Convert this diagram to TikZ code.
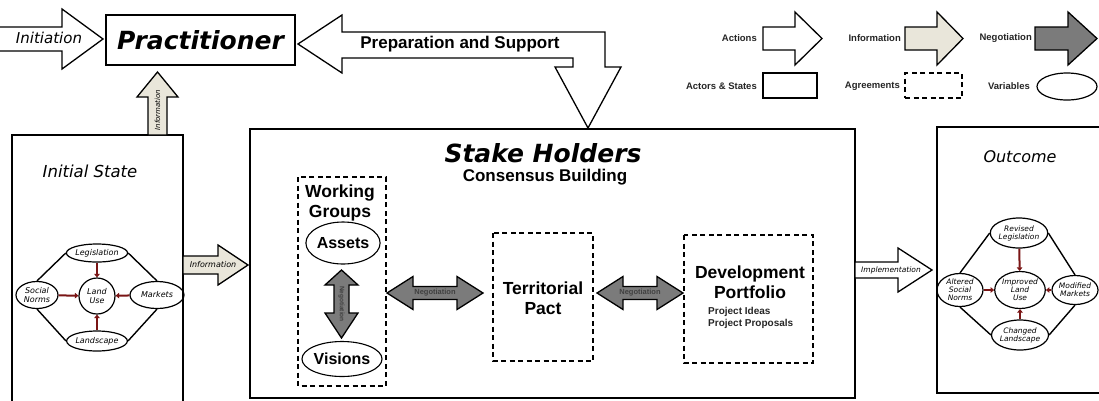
\documentclass[tikz,border=0pt]{standalone}
\usepackage{fontspec}
\newfontfamily\cs{DejaVu Sans}
\newfontfamily\ar{Liberation Sans}
\usetikzlibrary{arrows.meta,shapes.geometric}
\definecolor{infofill}{HTML}{E9E6DA}
\definecolor{negfill}{HTML}{7B7B7B}
\definecolor{relred}{HTML}{7A1515}
% single horizontal block arrow: style, x0, xbase, xtip, yc, halfshaft, halfhead
\newcommand{\harr}[7][]{\draw[blockarrow,#1] (#2,{#5-#6}) -- (#3,{#5-#6}) -- (#3,{#5-#7}) -- (#4,#5) -- (#3,{#5+#7}) -- (#3,{#5+#6}) -- (#2,{#5+#6}) -- cycle;}
% single vertical block arrow: style, y0, ybase, ytip, xc, halfshaft, halfhead
\newcommand{\varr}[7][]{\draw[blockarrow,#1] ({#5-#6},#2) -- ({#5-#6},#3) -- ({#5-#7},#3) -- (#5,#4) -- ({#5+#7},#3) -- ({#5+#6},#3) -- ({#5+#6},#2) -- cycle;}
% double horizontal: style, xlt, xlb, xrb, xrt, yc, hs, hh
\newcommand{\hdarr}[8][]{\draw[blockarrow,#1] (#2,#6) -- (#3,{#6-#8}) -- (#3,{#6-#7}) -- (#4,{#6-#7}) -- (#4,{#6-#8}) -- (#5,#6) -- (#4,{#6+#8}) -- (#4,{#6+#7}) -- (#3,{#6+#7}) -- (#3,{#6+#8}) -- cycle;}
% double vertical: style, ytt, ytb, ybb, ybt, xc, hs, hh
\newcommand{\vdarr}[8][]{\draw[blockarrow,#1] (#6,#2) -- ({#6-#8},#3) -- ({#6-#7},#3) -- ({#6-#7},#4) -- ({#6-#8},#4) -- (#6,#5) -- ({#6+#8},#4) -- ({#6+#7},#4) -- ({#6+#7},#3) -- ({#6+#8},#3) -- cycle;}
\begin{document}
\begin{tikzpicture}[x=1pt,y=-1pt,
  blockarrow/.style={draw=black,line width=1.3pt,line join=miter,fill=white},
  info/.style={fill=infofill},
  nego/.style={fill=negfill},
  box/.style={draw=black,line width=1.3pt},
  agree/.style={draw=black,line width=1.3pt,dash pattern=on 5pt off 3.5pt},
  var/.style={ellipse,draw=black,line width=1.2pt,inner sep=0pt,align=center,
    font=\cs\itshape\fontsize{8}{8.6}\selectfont},
  ovar/.style={var,font=\cs\itshape\fontsize{7.5}{8}\selectfont},
  link/.style={draw=black,line width=1.4pt},
  rel/.style={draw=relred,line width=2pt,-{Triangle[length=3.5pt,width=5.5pt]}},
  legtxt/.style={anchor=east,inner sep=0pt,font=\ar\bfseries\fontsize{9.5}{10}\selectfont,text=black!85},
  big/.style={font=\ar\bfseries\fontsize{17.5}{20.5}\selectfont,align=center,inner sep=0pt},
  comic/.style={font=\cs\itshape,inner sep=0pt},
  small/.style={inner sep=0pt,font=\cs\itshape\fontsize{7.5}{8}\selectfont}]
\useasboundingbox (0,0) rectangle (1099,400);
\fill[white] (0,0) rectangle (1099,400);

% ---------- legend ----------
\harr{763}{795}{822}{38.5}{11.5}{26.5}
\harr[info]{905}{937}{963}{38.5}{11.5}{26.5}
\harr[nego]{1035}{1068}{1097}{38.5}{11.5}{26.5}
\node[legtxt] (lgact) at (757,38) {Actions};
\node[legtxt] (lginf) at (901,38) {Information};
\node[legtxt] (lgneg) at (1032,38) {Negotiation};
\node[box,minimum width=54pt,minimum height=25pt,inner sep=0pt] (lgbox) at (790,85.5) {};
\node[agree,minimum width=57pt,minimum height=25pt,inner sep=0pt] (lgagr) at (933.5,85.5) {};
\node[ellipse,draw,line width=1.2pt,minimum width=60pt,minimum height=27pt,inner sep=0pt] (lgvar) at (1067,86.5) {};
\node[legtxt] (lgas) at (757,86) {Actors \& States};
\node[legtxt] (lgag) at (900,86) {Agreements};
\node[legtxt] (lgva) at (1030,86) {Variables};

% ---------- practitioner ----------
\node[box,minimum width=189pt,minimum height=50pt,inner sep=0pt,
  font=\cs\bfseries\itshape\fontsize{25}{28}\selectfont] (prac) at (200.5,40) {Practitioner};
\harr{-5}{62}{103}{39}{12}{30}
\node[comic,font=\cs\itshape\fontsize{15}{16}\selectfont] (init) at (49,38) {Initiation};

% preparation and support (bent arrow)
\draw[blockarrow] (298,44) -- (342,15) -- (342,32) -- (605,32) -- (605,67) -- (621,67)
  -- (588,128) -- (555,67) -- (573,67) -- (573,58) -- (342,58) -- (342,73) -- cycle;
\node[inner sep=0pt,font=\ar\bfseries\fontsize{17}{20}\selectfont] (prep) at (460,44) {Preparation and Support};

% ---------- initial state ----------
\draw[box] (12,410) -- (12,135) -- (183,135) -- (183,410);
\node[comic,font=\cs\itshape\fontsize{16.5}{18}\selectfont] (ist) at (90,171) {Initial State};
\varr[info]{135}{97}{72}{157.5}{9.5}{20.5}
\node[small,rotate=90,font=\cs\itshape\fontsize{7}{7}\selectfont] (infv) at (157.5,110) {Information};

\node[var,minimum width=52pt,minimum height=18pt] (leg) at (97,253) {Legislation};
\node[var,minimum width=36pt,minimum height=36pt] (lu) at (97,296) {Land\\Use};
\node[var,minimum width=42pt,minimum height=27pt] (soc) at (37,295) {Social\\Norms};
\node[var,minimum width=54pt,minimum height=27pt] (mkt) at (157,295) {Markets};
\node[var,minimum width=54pt,minimum height=20pt] (lsc) at (97,341) {Landscape};
\draw[link] (leg.west) -- (soc.north);
\draw[link] (leg.east) -- (mkt.north);
\draw[link] (soc.south) -- (lsc.west);
\draw[link] (mkt.south) -- (lsc.east);
\draw[rel] (leg) -- (lu);
\draw[rel] (soc) -- (lu);
\draw[rel] (mkt) -- (lu);
\draw[rel] (lsc) -- (lu);

\harr[info]{183}{218}{248}{265}{9}{20}
\node[small,font=\cs\itshape\fontsize{8}{8}\selectfont] (infh) at (213,265) {Information};

% ---------- stake holders ----------
\draw[box] (250,129) rectangle (855,398);
\node[comic,font=\cs\bfseries\itshape\fontsize{25}{28}\selectfont] (sh) at (543,153) {Stake Holders};
\node[inner sep=0pt,font=\ar\bfseries\fontsize{17}{20}\selectfont] (cb) at (545,177) {Consensus Building};

\draw[agree] (298,177) rectangle (386,386);
\node[big] (wg) at (340,203) {Working\\Groups};
\node[ellipse,draw,line width=1.1pt,minimum width=51pt,minimum height=42pt,inner sep=0pt,
  font=\ar\bfseries\fontsize{16}{17}\selectfont] (assets) at (343,243) {Assets};
\node[ellipse,draw,line width=1.1pt,minimum width=58pt,minimum height=35pt,inner sep=0pt,
  font=\ar\bfseries\fontsize{16}{17}\selectfont] (visions) at (342,359) {Visions};
\vdarr[nego]{270}{285}{313}{338}{341.5}{7.5}{16.5}
\node[inner sep=0pt,rotate=-90,font=\ar\bfseries\fontsize{6.5}{7}\selectfont,text=black!75] (ngv) at (341.5,304) {Negotiation};

\hdarr[nego]{387}{413}{457}{483}{293}{6.5}{16.5}
\node[inner sep=0pt,font=\ar\bfseries\fontsize{7.5}{8}\selectfont,text=black!75] (ng1) at (435,293) {Negotiation};

\draw[agree] (493,233) rectangle (593,361);
\node[big] (tp) at (543,298) {Territorial\\Pact};

\hdarr[nego]{597}{623}{657}{683}{293}{6.5}{16.5}
\node[inner sep=0pt,font=\ar\bfseries\fontsize{7.5}{8}\selectfont,text=black!75] (ng2) at (640,293) {Negotiation};

\draw[agree] (684,235) rectangle (813,363);
\node[big] (dp) at (750,282) {Development\\Portfolio};
\node[anchor=north west,inner sep=0pt,align=left,font=\ar\bfseries\fontsize{10}{12}\selectfont,text=black!85] (pp) at (708,307) {Project Ideas\\Project Proposals};

% ---------- implementation & outcome ----------
\harr{855}{898}{932}{270}{8}{22}
\node[small,font=\cs\itshape\fontsize{7.5}{8}\selectfont] (impl) at (891,270) {Implementation};

\draw[box] (1110,127) -- (937,127) -- (937,393) -- (1110,393);
\node[comic,font=\cs\itshape\fontsize{16}{18}\selectfont] (out) at (1020,157) {Outcome};

\node[ovar,minimum width=52pt,minimum height=30pt] (rl) at (1019,233) {Revised\\Legislation};
\node[ovar,minimum width=47pt,minimum height=37pt] (ilu) at (1020,290) {Improved\\Land\\Use};
\node[ovar,minimum width=46pt,minimum height=33pt] (asn) at (960,290) {Altered\\Social\\Norms};
\node[ovar,minimum width=46pt,minimum height=29pt] (mm) at (1075,290) {Modified\\Markets};
\node[ovar,minimum width=52pt,minimum height=30pt] (cl) at (1020,335) {Changed\\Landscape};
\draw[link] (rl.west) -- (asn.north);
\draw[link] (rl.east) -- (mm.north);
\draw[link] (asn.south) -- (cl.west);
\draw[link] (mm.south) -- (cl.east);
\draw[rel] (rl) -- (ilu);
\draw[rel] (asn) -- (ilu);
\draw[rel] (mm) -- (ilu);
\draw[rel] (cl) -- (ilu);
\end{tikzpicture}
\end{document}
